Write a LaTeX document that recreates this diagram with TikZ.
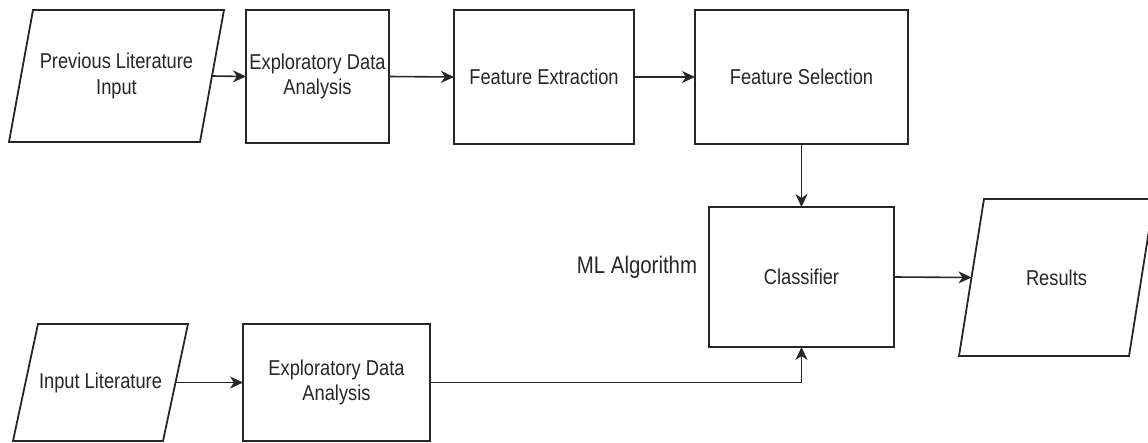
\documentclass[tikz,border=0pt]{standalone}
\usepackage{fontspec}
\setmainfont{Liberation Sans}[FakeStretch=0.85]
\usetikzlibrary{arrows.meta}
\definecolor{ink}{HTML}{262626}
\tikzset{
  every node/.style={text=ink, font=\fontsize{21.5}{25.6}\selectfont, inner sep=0pt, outer sep=0pt},
  boxnode/.style={draw=ink, line width=1.8pt, rectangle, align=center},
  ionode/.style={rectangle, align=center},
  paraline/.style={draw=ink, line width=1.8pt, line join=miter},
  conn/.style={draw=ink, line width=1.6pt, -{Stealth[length=13pt,width=12pt,inset=4pt]}}
}
\newcommand\paradraw[2]{%
  \draw[paraline] ([xshift=-#2]#1.south west) -- ([xshift=-#2]#1.south east)
    -- ([xshift=#2]#1.north east) -- ([xshift=#2]#1.north west) -- cycle;}
\begin{document}
\begin{tikzpicture}[x=1pt,y=-1pt]
\useasboundingbox (0,0) rectangle (1148,442);
% top row
\node[ionode, minimum width=191pt, minimum height=132pt] (p1) at (116.5,76) {Previous Literature\\Input};
\paradraw{p1}{12pt}
\node[boxnode, minimum width=143pt, minimum height=133pt] (eda1) at (317.5,76.5) {Exploratory Data\\Analysis};
\node[boxnode, minimum width=180pt, minimum height=134pt] (fe) at (544,77) {Feature Extraction};
\node[boxnode, minimum width=213pt, minimum height=134pt] (fs) at (801.5,77) {Feature Selection};
% middle
\node[boxnode, minimum width=185pt, minimum height=140pt] (cl) at (801.5,277) {Classifier};
\node[ionode, minimum width=170pt, minimum height=157pt] (res) at (1056.5,277.5) {Results};
\paradraw{res}{12.5pt}
\node[font=\fontsize{24}{28}\selectfont] (ml) at (637,267) {ML Algorithm};
% bottom row
\node[ionode, minimum width=150pt, minimum height=117pt] (p2) at (100.5,382.5) {Input Literature};
\paradraw{p2}{12.5pt}
\node[boxnode, minimum width=187pt, minimum height=117pt] (eda2) at (336.5,382.5) {Exploratory Data\\Analysis};
% connectors
\draw[conn] (p1.east) -- (eda1.west);
\draw[conn] (eda1.east) -- (fe.west);
\draw[conn] (fe.east) -- (fs.west);
\draw[conn] (fs.south) -- (cl.north);
\draw[conn] (cl.east) -- (res.west);
\draw[conn] (p2.east) -- (eda2.west);
\draw[conn] (eda2.east) -| (cl.south);
\end{tikzpicture}
\end{document}
